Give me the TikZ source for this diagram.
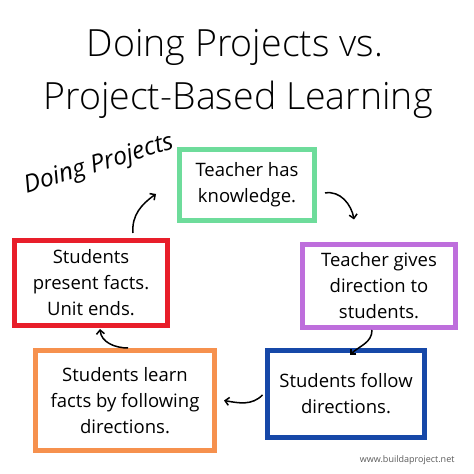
\documentclass[tikz,border=0pt]{standalone}
\usepackage{fontspec}
\setmainfont{Open Sans}
\newfontfamily\lightfont{Open Sans Light}
\usetikzlibrary{arrows.meta,calc}
\definecolor{green1}{RGB}{110,220,155}
\definecolor{purple1}{RGB}{190,110,220}
\definecolor{red1}{RGB}{232,30,42}
\definecolor{orange1}{RGB}{246,145,78}
\definecolor{blue1}{RGB}{22,72,168}
\definecolor{gray1}{RGB}{90,90,90}

\begin{document}
\begin{tikzpicture}[x=1pt,y=1pt,>={Straight Barb[length=4pt,width=8pt]},
    box/.style={draw,line width=5pt,inner sep=0pt,align=center,font=\fontsize{18.5}{26}\selectfont},
    arr/.style={->,line width=1.5pt}]

    \useasboundingbox (0,0) rectangle (474,474);

    % title
    \node[anchor=base,font=\lightfont\fontsize{37.5}{44}\selectfont] (t1) at (235,417) {Doing Projects vs.};
    \node[anchor=base,font=\lightfont\fontsize{37.5}{44}\selectfont] (t2) at (238,364) {Project-Based Learning};
    \node[rotate=17,inner sep=0pt,font=\itshape\fontsize{24.5}{28}\selectfont] (dp) at (99,309) {Doing Projects};

    % the cycle
    \node[box,draw=green1,minimum width=135,minimum height=71] (green) at (247,289) {Teacher has\\knowledge.};
    \node[box,draw=purple1,minimum width=153,minimum height=83] (purple) at (379,188) {Teacher gives\\direction to\\students.};
    \node[box,draw=blue1,minimum width=157,minimum height=87] (blue) at (346,80) {Students follow\\directions.};
    \node[box,draw=orange1,minimum width=179,minimum height=100] (orange) at (125,73.5) {Students learn\\facts by following\\directions.};
    \node[box,draw=red1,minimum width=153,minimum height=85] (red) at (91,191) {Students\\present facts.\\Unit ends.};

    \draw[arr] ($(red.north)+(42,5)$) to[out=95,in=215] ($(green.west)+(-21,-9)$);
    \draw[arr] ($(green.east)+(8,-8)$) to[out=10,in=100] ($(purple.north)+(-25,22.5)$);
    \draw[arr] ($(purple.south)+(-7,0)$) to[out=-90,in=45] ($(blue.north)+(4,-7)$);
    \draw[arr] ($(blue.west)+(-2.5,-1)$) to[out=225,in=-10] ($(orange.east)+(7,0)$);
    \draw[arr] ($(orange.north)+(3,0)$) to[out=180,in=-85] ($(red.south)+(9,-1)$);

    \node[anchor=base east,text=gray1,font=\fontsize{9}{11}\selectfont] (web) at (458,11) {www.buildaproject.net};

\end{tikzpicture}
\end{document}
